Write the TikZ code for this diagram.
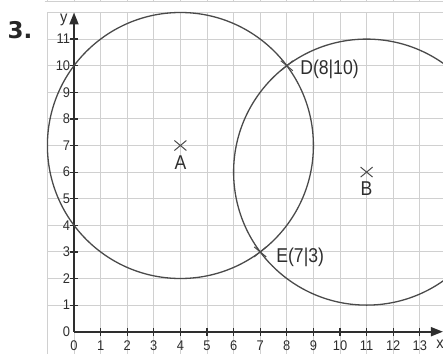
\documentclass[tikz,border=0pt]{standalone}
\usepackage{fontspec}
\setmainfont{Liberation Sans}
\newfontfamily\lblfont[FakeStretch=0.88]{Liberation Sans}
\newfontfamily\tickfont[FakeStretch=0.92]{Liberation Sans}
\newfontfamily\numfont{DejaVu Sans}
\usetikzlibrary{arrows.meta,shapes.misc}
\definecolor{gridgray}{HTML}{D0D0D0}
\definecolor{inkgray}{HTML}{2E2E2E}
\definecolor{circgray}{HTML}{4A4A4A}
\begin{document}
\begin{tikzpicture}[x=26.6pt,y=26.6pt,
  gridline/.style={draw=gridgray, line width=0.9pt},
  axisline/.style={draw=inkgray, line width=1.8pt, -{Triangle[length=12pt,width=9pt]}},
  tickmark/.style={draw=inkgray, line width=1.2pt},
  circline/.style={draw=circgray, line width=1.3pt},
  ticklbl/.style={text=inkgray, inner sep=0pt, font=\tickfont\fontsize{14}{14}\selectfont},
  ptlbl/.style={text=inkgray, inner sep=0pt, font=\lblfont\fontsize{20}{20}\selectfont},
  crossmark/.style={cross out, draw=circgray, line width=1pt, minimum width=11pt, minimum height=9pt, inner sep=0pt}]
\useasboundingbox (-2.782,-0.838) rectangle (13.872,12.47);
% grid
\foreach \i in {-1,...,13} \draw[gridline] (\i,-0.838) -- (\i,12);
\foreach \j in {1,...,12} \draw[gridline] (-1,\j) -- (13.872,\j);
% strip of the previous figure at the top
\draw[gridline] (-1.1,12.41) -- (13.872,12.41);
\foreach \i in {-1,...,13} \draw[gridline] (\i,12.41) -- (\i,12.47);
% axes
\coordinate (O) at (0,0);
\coordinate (xend) at (13.87,0);
\coordinate (yend) at (0,12.0);
\draw[axisline] (O) -- (xend);
\draw[axisline] (O) -- (yend);
\foreach \i in {1,...,13} \draw[tickmark] (\i,-0.15) -- (\i,0.15);
\foreach \j in {1,...,11} \draw[tickmark] (-0.15,\j) -- (0.15,\j);
\foreach \i in {0,...,13} \node[ticklbl] (xl\i) at (\i,-0.54) {\i};
\foreach \j in {0,...,11} \node[ticklbl, anchor=east] (yl\j) at (-0.14,\j) {\j};
\node[ticklbl, font=\tickfont\fontsize{16}{16}\selectfont] (ylab) at (-0.38,11.71) {y};
\node[ticklbl, font=\tickfont\fontsize{16}{16}\selectfont] (xlab) at (13.76,-0.47) {x};
% circles
\begin{scope}
\clip (-2.782,-0.838) rectangle (13.872,12.47);
\draw[circline] (4,7) circle[radius=5];
\draw[circline] (11,6) circle[radius=5];
\end{scope}
% points
\node[crossmark] (A) at (4,7) {};
\node[crossmark] (B) at (11,6) {};
\node[crossmark] (D) at (8,10) {};
\node[crossmark] (E) at (7,3) {};
\node[ptlbl] (Alab) at (4,6.37) {A};
\node[ptlbl] (Blab) at (11,5.39) {B};
\node[ptlbl, anchor=west] (Dlab) at (8.5,9.86) {D(8|10)};
\node[ptlbl, anchor=west] (Elab) at (7.6,2.79) {E(7|3)};
% exercise number
\node[text=black!85, inner sep=0pt, font=\numfont\bfseries\fontsize{23}{23}\selectfont] (num) at (-2.03,11.34) {3.};
\end{tikzpicture}
\end{document}
